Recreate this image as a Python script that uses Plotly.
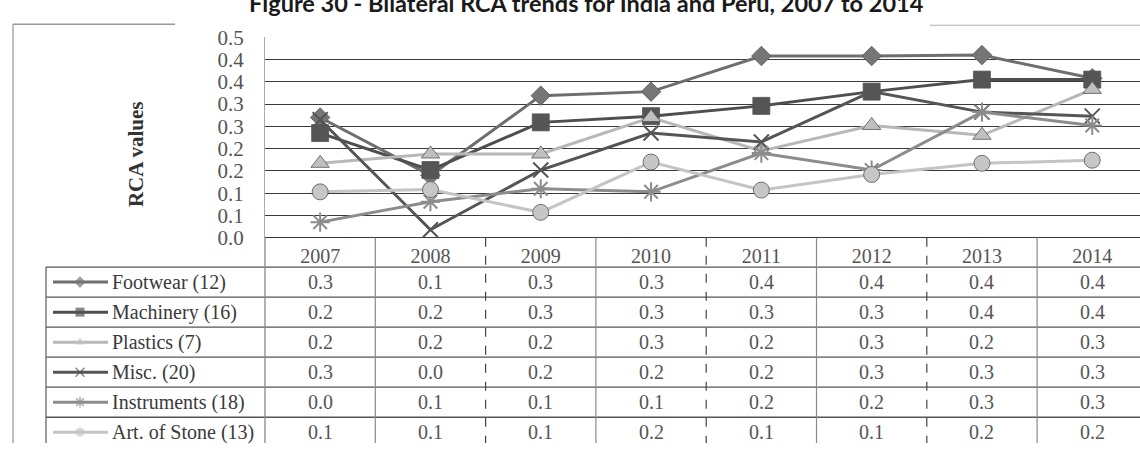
import plotly.graph_objects as go
from decimal import Decimal, ROUND_HALF_UP

# ---- data -------------------------------------------------------------
years = ["2007", "2008", "2009", "2010", "2011", "2012", "2013", "2014"]
series_names = ["Footwear (12)", "Machinery (16)", "Plastics (7)",
                "Misc. (20)", "Instruments (18)", "Art. of Stone (13)"]

footwear = [0.270, 0.140, 0.319, 0.328, 0.408, 0.408, 0.410, 0.358]
machinery = [0.235, 0.152, 0.259, 0.273, 0.296, 0.328, 0.355, 0.355]
plastics = [0.167, 0.188, 0.188, 0.270, 0.195, 0.252, 0.230, 0.333]
misc = [0.265, 0.018, 0.152, 0.235, 0.215, 0.328, 0.282, 0.273]
instruments = [0.035, 0.081, 0.110, 0.103, 0.190, 0.152, 0.282, 0.252]
art_of_stone = [0.103, 0.108, 0.057, 0.170, 0.107, 0.142, 0.167, 0.174]

y_tick_values = [0.0, 0.05, 0.10, 0.15, 0.20, 0.25, 0.30, 0.35, 0.40, 0.45]
y_tick_labels = ["0.0", "0.1", "0.1", "0.2", "0.2", "0.3", "0.3", "0.4", "0.4", "0.5"]

title_text = "Figure 30 - Bilateral RCA trends for India and Peru, 2007 to 2014"
y_title = "RCA values"

# ---- styling ----------------------------------------------------------
W, H = 1140, 455
SERIF = "Liberation Serif"
line_colors = ["#6e6e6e", "#4f4f4f", "#b8b8b8", "#555555", "#8c8c8c", "#c4c4c4"]
marker_fill = ["#767676", "#555555", "#c0c0c0", "#555555", "#8c8c8c", "#c6c6c6"]
symbols = ["diamond", "square", "triangle-up", "x-thin-open", "asterisk-open", "circle"]
marker_sizes = [15, 17, 16, 15, 16, 16]

PLOT_L, PLOT_T, PLOT_B = 265.0, 26.7, 238.3
COL_W = 110.3
ROW_H = 31.7
HEADER_B = 269.3
LEGEND_L = 46.0


def px(x):
    return x / W


def py(y):
    return 1 - y / H


def one_decimal(v):
    return str(Decimal(str(v)).quantize(Decimal("0.1"), rounding=ROUND_HALF_UP))


values = [footwear, machinery, plastics, misc, instruments, art_of_stone]
xs = list(range(len(years)))

fig = go.Figure()

for i, (name, vals) in enumerate(zip(series_names, values)):
    open_sym = symbols[i].endswith("-open")
    fig.add_trace(go.Scatter(
        x=xs, y=vals, name=name, mode="lines+markers",
        line=dict(color=line_colors[i], width=3),
        marker=dict(symbol=symbols[i], size=marker_sizes[i],
                    color=line_colors[i] if open_sym else marker_fill[i],
                    line=dict(color=line_colors[i] if open_sym else "#555555",
                              width=2 if open_sym else 0.8)),
        showlegend=False, hoverinfo="skip", xaxis="x", yaxis="y",
        cliponaxis=False,
    ))

# data-table rows: key line + marker drawn on a pixel overlay axis
row_centers = [HEADER_B + ROW_H * (r + 0.5) for r in range(len(series_names))]
for i, name in enumerate(series_names):
    open_sym = symbols[i].endswith("-open")
    fig.add_trace(go.Scatter(
        x=[53, 80, 108], y=[row_centers[i]] * 3, mode="lines+markers",
        line=dict(color=line_colors[i], width=3),
        marker=dict(symbol=symbols[i], size=[0, 9, 0],
                    color=line_colors[i] if open_sym else marker_fill[i],
                    line=dict(color=line_colors[i], width=1.5 if open_sym else 0)),
        showlegend=False, hoverinfo="skip", xaxis="x2", yaxis="y2",
    ))

annotations = []
for r, (name, vals) in enumerate(zip(series_names, values)):
    annotations.append(dict(
        text=name, x=px(110), y=py(row_centers[r]), xref="paper", yref="paper",
        xanchor="left", yanchor="middle", showarrow=False,
        font=dict(family=SERIF, size=20, color="#3a3a3a")))
    for c, v in enumerate(vals):
        annotations.append(dict(
            text=one_decimal(v), x=c, y=py(row_centers[r]), xref="x", yref="paper",
            xanchor="center", yanchor="middle", showarrow=False,
            font=dict(family=SERIF, size=20, color="#555555")))

# figure title (its upper part runs past the top edge of the page)
annotations.append(dict(
    text="<b>" + title_text + "</b>", x=px(586), y=py(-9), xref="paper", yref="paper",
    xanchor="center", yanchor="middle", showarrow=False,
    font=dict(family="Lato", size=23.5, color="#1a1a1a")))
annotations.append(dict(
    text="<b>" + y_title + "</b>", x=px(136), y=py(150), xref="paper", yref="paper",
    xanchor="center", yanchor="middle", textangle=-90, showarrow=False,
    font=dict(family=SERIF, size=21, color="#333333")))

shapes = []


def hline(y, x0, x1, color="#555555", width=1.3, dash="solid"):
    shapes.append(dict(type="line", xref="paper", yref="paper",
                       x0=px(x0), x1=px(x1), y0=py(y), y1=py(y),
                       line=dict(color=color, width=width, dash=dash)))


def vline(x, y0, y1, color="#555555", width=1.3, dash="solid"):
    shapes.append(dict(type="line", xref="paper", yref="paper",
                       x0=px(x), x1=px(x), y0=py(y0), y1=py(y1),
                       line=dict(color=color, width=width, dash=dash)))


# outer chart frame
vline(13, 13, H, color="#a8a8a8", width=1.5)
hline(13, 13, 175, color="#9a9a9a", width=1.5)
hline(14, 930, W, color="#b0b0b0", width=1.2)

# table grid
for r in range(len(series_names)):
    hline(HEADER_B + ROW_H * r, LEGEND_L, W)
vline(LEGEND_L, HEADER_B, H, color="#666666")
vline(PLOT_L, PLOT_B, H, color="#888888")
for k in range(1, len(years)):
    x = PLOT_L + k * COL_W
    if k % 2 == 0:
        vline(x, PLOT_B, H, color="#444444", width=1.2, dash="dash")
    else:
        vline(x, PLOT_B, H, color="#8a8a8a", width=1.2)

fig.update_layout(
    width=W, height=H,
    margin=dict(l=0, r=0, t=0, b=0),
    paper_bgcolor="white", plot_bgcolor="rgba(0,0,0,0)",
    xaxis=dict(domain=[px(PLOT_L), 1],
               range=[-0.5, -0.5 + (W - PLOT_L) / COL_W],
               tickmode="array", tickvals=xs, ticktext=years,
               showgrid=False, zeroline=False, showline=False, ticks="",
               ticklabelstandoff=4,
               tickfont=dict(family=SERIF, size=20, color="#555555")),
    yaxis=dict(domain=[py(PLOT_B), py(PLOT_T)], range=[0, 0.45],
               tickmode="array", tickvals=y_tick_values, ticktext=y_tick_labels,
               showgrid=True, gridcolor="#3a3a3a", gridwidth=1.4,
               zeroline=True, zerolinecolor="#3a3a3a", zerolinewidth=1.4,
               showline=True, linecolor="#aaaaaa", linewidth=1,
               ticks="", ticklabelstandoff=16,
               tickfont=dict(family=SERIF, size=21, color="#555555")),
    xaxis2=dict(domain=[0, 1], range=[0, W], visible=False, anchor="y2"),
    yaxis2=dict(domain=[0, 1], range=[H, 0], visible=False, anchor="x2"),
    annotations=annotations,
    shapes=shapes,
)

fig.write_html("out.html")
